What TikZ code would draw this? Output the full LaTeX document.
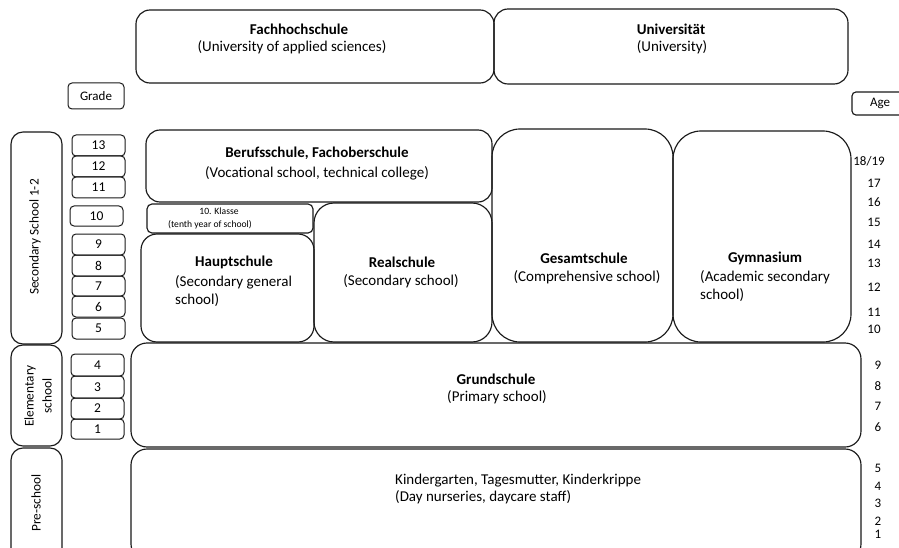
\documentclass[tikz,border=0pt]{standalone}
\usepackage{fontspec}
\setmainfont{Carlito}
\usetikzlibrary{fit}
\begin{document}
\begin{tikzpicture}[x=1pt,y=-1pt,
  frame/.style={draw=black!90, line width=1.15pt, rounded corners=#1, inner sep=0pt},
  frame/.default=14pt,
  gradebox/.style={draw=black!90, line width=1pt, rounded corners=4pt, inner sep=0pt,
    minimum width=53pt, font=\fontsize{13.5}{15}\selectfont},
  title/.style={font=\fontsize{15}{18}\selectfont\bfseries, inner sep=0pt},
  desc/.style={font=\fontsize{15}{18}\selectfont, inner sep=0pt, align=center},
  sidelbl/.style={font=\fontsize{13.3}{18}\selectfont, inner sep=0pt, align=center, rotate=90},
  agelbl/.style={font=\fontsize{13}{15}\selectfont, inner sep=0pt},
]
\useasboundingbox (0,0) rectangle (899,548);
\clip (0,0) rectangle (899,548);

% higher education
\node[frame, fit={(136,10) (494,83)}] (fh) {};
\node[title] (fhT) at (299,29) {Fachhochschule};
\node[desc] (fhD) at (292,47) {(University of applied sciences)};
\node[frame, fit={(494,9) (848,84)}] (uni) {};
\node[title] (uniT) at (671,29) {Universität};
\node[desc] (uniD) at (672,47) {(University)};

% column headers
\node[gradebox, font=\fontsize{13}{15}\selectfont, minimum width=56pt, minimum height=26pt]
  (grade) at (96,96) {Grade};
\node[frame=4pt, fit={(852,92) (910,115)}] (agebox) {};
\node[agelbl] (ageT) at (880,103) {Age};

% stage labels on the left
\node[frame=12pt, fit={(11,132) (62,344)}] (sec) {};
\node[sidelbl] (secT) at (35,237) {Secondary School 1-2};
\node[frame=12pt, fit={(11,345) (62,446)}] (elem) {};
\node[sidelbl] (elemT) at (38,396) {Elementary\\school};
\node[frame=12pt, fit={(11,448) (62,560)}] (pre) {};
\node[sidelbl] (preT) at (36,503) {Pre-school};

% grades: number / x centre / y centre / height
\foreach \n/\x/\y/\h in {13/98.5/145.5/21, 12/98.5/166.5/21, 11/98.5/187.5/21,
  10/96.5/216/20, 9/98.5/244.5/21, 8/98.5/265.5/21, 7/98.5/286/20, 6/98.5/306.5/21,
  5/98.5/328.5/21, 4/97.5/365/22, 3/97.5/387/22, 2/97.5/408.5/21, 1/97.5/429/20}
  \node[gradebox, minimum height=\h pt] (g\n) at (\x,\y) {\n};

% secondary schools
\node[frame, fit={(146,130) (492,202)}] (beruf) {};
\node[title] (berufT) at (317,153) {Berufsschule, Fachoberschule};
\node[desc] (berufD) at (317,173) {(Vocational school, technical college)};

\node[frame=5pt, fit={(147,204) (313,233)}] (kl10) {};
\node[inner sep=0pt, align=center, font=\fontsize{9.6}{13}\selectfont] (kl10T) at (210,218.5)
  {\hspace*{18pt}10. Klasse\\(tenth year of school)};

\node[frame=16pt, fit={(141,234) (314,342)}] (haupt) {};
\node[title] (hauptT) at (234,262) {Hauptschule};
\node[desc, align=left, anchor=west] (hauptD) at (175,291) {(Secondary general\\school)};

\node[frame=20pt, fit={(314,203) (492,342)}] (real) {};
\node[title] (realT) at (402,262) {Realschule};
\node[desc] (realD) at (401,281) {(Secondary school)};

\node[frame=28pt, fit={(492,129) (673,342)}] (gesamt) {};
\node[title] (gesamtT) at (584,258) {Gesamtschule};
\node[desc] (gesamtD) at (587,277) {(Comprehensive school)};

\node[frame=28pt, fit={(673,131) (851,342)}] (gym) {};
\node[title] (gymT) at (765,258) {Gymnasium};
\node[desc, align=left, anchor=west] (gymD) at (700,286) {(Academic secondary\\school)};

% primary and pre-school
\node[frame=16pt, fit={(131,343) (861,447)}] (grund) {};
\node[title] (grundT) at (496,379) {Grundschule};
\node[desc] (grundD) at (497,397) {(Primary school)};

\node[frame=16pt, fit={(131,449) (861,560)}] (kiga) {};
\node[desc, align=left, anchor=west, font=\fontsize{15}{17}\selectfont] (kigaD) at (395,489)
  {Kindergarten, Tagesmutter, Kinderkrippe\\(Day nurseries, daycare staff)};

% ages
\node[agelbl] (a1819) at (869,161) {18/19};
\foreach \a/\y in {17/183, 16/202, 15/222, 14/244, 13/263, 12/287, 11/312, 10/329}
  \node[agelbl] (a\a) at (874,\y) {\a};
\foreach \a/\y in {9/365, 8/386, 7/406, 6/427, 5/468, 4/486, 3/503, 2/521, 1/534}
  \node[agelbl] (a\a) at (878,\y) {\a};
\end{tikzpicture}
\end{document}
